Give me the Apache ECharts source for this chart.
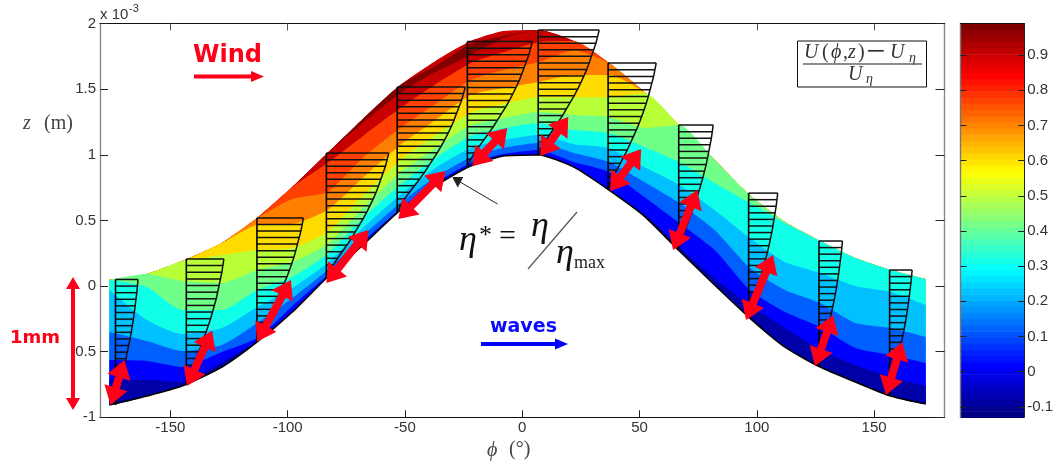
<!DOCTYPE html>
<html>
<head>
<meta charset="utf-8">
<style>html,body{margin:0;padding:0;background:#fff}#c{width:1056px;height:466px}</style>
<script src="https://cdn.jsdelivr.net/npm/echarts@6/dist/echarts.min.js"></script>
</head>
<body>
<div id="c"></div>
<script>
// phase angle (deg) of each column
const phi = [-176,-160,-145,-128,-113,-98,-83,-68,-52,-37,-22,-8,7,22,37,52,67,82,97,112,127,142,157,172];
// upper edge (mm-scale z, x10^-3 m) of each coloured band, top of domain first
const edgeTop = [.046,.091,.19,.328,.518,.754,1.013,1.272,1.531,1.714,1.866,1.942,1.95,1.866,1.699,1.478,1.226,.96,.693,.487,.343,.213,.122,.053];
const edgeMaroon = [.046,.091,.19,.328,.518,.754,1.013,1.272,1.531,1.676,1.843,1.904,1.95,1.866,1.699,1.478,1.226,.96,.693,.487,.343,.213,.122,.053];
const edgeDarkRed = [.046,.091,.19,.328,.518,.754,1.013,1.241,1.47,1.63,1.759,1.889,1.95,1.866,1.699,1.478,1.226,.96,.693,.487,.343,.213,.122,.053];
const edgeRed = [.046,.091,.19,.328,.518,.754,.937,1.142,1.356,1.538,1.698,1.782,1.858,1.866,1.699,1.478,1.226,.96,.693,.487,.343,.213,.122,.053];
const edgeOrange = [.046,.091,.19,.328,.518,.663,.716,.975,1.203,1.386,1.569,1.645,1.706,1.797,1.699,1.478,1.226,.96,.693,.487,.343,.213,.122,.053];
const edgeYellow = [.046,.091,.19,.328,.465,.472,.579,.823,1.074,1.264,1.455,1.508,1.554,1.607,1.607,1.478,1.226,.96,.693,.487,.343,.213,.122,.053];
const edgeLime = [.046,.091,.19,.236,.274,.289,.411,.685,.96,1.15,1.318,1.386,1.439,1.439,1.439,1.47,1.226,.96,.693,.487,.343,.213,.122,.053];
const edgeGreen = [.046,.091,.038,.023,.122,.183,.32,.594,.861,1.051,1.226,1.279,1.325,1.302,1.287,1.203,1.226,.96,.693,.487,.343,.213,.122,.053];
const edgeCyan = [.046,-.008,-.183,-.183,-.03,.069,.244,.518,.769,.975,1.142,1.203,1.241,1.188,1.165,1.059,.944,.784,.632,.48,.343,.213,.122,.053];
const edgeSky = [-.03,-.259,-.366,-.32,-.16,-.015,.175,.442,.693,.899,1.051,1.112,1.15,1.081,1.051,.906,.769,.579,.366,.183,.099,0,-.046,-.145];
const edgeAzure = [-.35,-.419,-.495,-.449,-.282,-.091,.122,.381,.632,.83,.982,1.051,1.089,1.013,.944,.792,.632,.426,.137,-.03,-.129,-.282,-.32,-.388];
const edgeBlue = [-.564,-.571,-.617,-.503,-.396,-.152,.084,.335,.586,.784,.937,1.005,1.036,.944,.868,.678,.48,.274,-.03,-.198,-.312,-.472,-.525,-.586];
const edgeNavy = [-.716,-.716,-.731,-.579,-.419,-.19,.069,.312,.579,.762,.914,.99,.998,.906,.731,.548,.297,.061,-.145,-.32,-.487,-.602,-.693,-.762];
const waveSurface = [-.906,-.838,-.762,-.617,-.426,-.198,.069,.312,.579,.762,.914,.99,.998,.906,.731,.533,.267,.008,-.244,-.465,-.617,-.731,-.838,-.899];
const bandColors = ['#c80000','#800000','#c80000','#ff4000','#ff8000','#ffdc00','#b8ff38','#70ff88','#10ffe8','#00c0ff','#0060ff','#0000ff','#0000a8'];

// velocity profiles: phi at base, z at base, z at top, width (deg) at top
const profilePhi = [-173.4,-143.2,-113.1,-83.5,-53.3,-23.4,6.8,36.6,66.7,96.5,126.5,156.6];
const profileBase = [-.906,-.754,-.426,.061,.564,.914,.998,.731,.274,-.244,-.609,-.83];
const profileTop = [.05,.206,.518,1.013,1.516,1.862,1.95,1.699,1.226,.708,.343,.122];
const profileWidth = [9.6,16,19.8,26.6,29,27.7,26,20.5,14.7,12.4,10,9.6];
const profileShape = [0,.1,.24,.38,.5,.62,.72,.81,.88,.95,1];
const profileRows = 19;

// red double arrows showing 1 mm: phi/z of lower and upper tips
const arrowPhiLow = [-175.5,-142.9,-113,-83.5,-52.8,-21.3,7.7,37.5,64.3,95.4,124.8,155.1];
const arrowZLow = [-.906,-.762,-.424,.023,.51,.914,.99,.724,.274,-.259,-.609,-.83];
const arrowPhiHigh = [-169.6,-132.2,-98.6,-65.6,-32.8,-6.4,19.6,50.7,74.6,106.9,132.5,161.9];
const arrowZHigh = [-.564,-.34,.046,.426,.876,1.203,1.287,1.043,.731,.236,-.221,-.426];

const xTicks = [-150,-100,-50,0,50,100,150];
const colorbarTicks = [-0.1,0,0.1,0.2,0.3,0.4,0.5,0.6,0.7,0.8,0.9];
const colorbarMin = -0.13, colorbarMax = 0.99, colorbarLevels = 64;

function jet(t){
  const c = v => Math.round(255*Math.max(0,Math.min(1,v)));
  const r = Math.min(4*t-1.5, -4*t+4.5), g = Math.min(4*t-0.5, -4*t+3.5), b = Math.min(4*t+0.5, -4*t+2.5);
  return 'rgb('+c(r)+','+c(g)+','+c(b)+')';
}
function arrowPts(a,b,shaft,headLen,headHalf,both){
  const dx=b[0]-a[0], dy=b[1]-a[1], L=Math.hypot(dx,dy), ux=dx/L, uy=dy/L, nx=-uy, ny=ux;
  const P=(d,n)=>[a[0]+ux*d+nx*n, a[1]+uy*d+ny*n];
  const pts=[];
  if(both){ pts.push(P(0,0),P(headLen,headHalf),P(headLen,shaft)); } else { pts.push(P(0,shaft)); }
  pts.push(P(L-headLen,shaft),P(L-headLen,headHalf),P(L,0),P(L-headLen,-headHalf),P(L-headLen,-shaft));
  if(both){ pts.push(P(headLen,-shaft),P(headLen,-headHalf)); } else { pts.push(P(0,-shaft)); }
  return pts;
}
const edges = [edgeTop,edgeMaroon,edgeDarkRed,edgeRed,edgeOrange,edgeYellow,edgeLime,edgeGreen,edgeCyan,edgeSky,edgeAzure,edgeBlue,edgeNavy];
const pair = arr => arr.map((z,i)=>[phi[i],z]);
const series = edges.map((e,i)=>({
  type:'line', xAxisIndex:0, yAxisIndex:0, data:pair(e), symbol:'none', silent:true, z:2,
  smooth:0.2,
  lineStyle:{width:0}, areaStyle:{color:bandColors[i],opacity:1,origin:'start'}
}));
// white mask below the surface, one degree wider so no coloured fringe shows at its ends
const maskData=[[phi[0]-1,waveSurface[0]],...pair(waveSurface),[phi[phi.length-1]+1,waveSurface[waveSurface.length-1]]];
series.push({type:'line',xAxisIndex:0,yAxisIndex:0,data:maskData,symbol:'none',silent:true,z:2,smooth:0.2,
  lineStyle:{width:0},areaStyle:{color:'#fff',opacity:1,origin:'start'}});
series.push({type:'line',xAxisIndex:0,yAxisIndex:0,data:pair(waveSurface),symbol:'none',silent:true,z:2,smooth:0.2,
  lineStyle:{width:1.6,color:'#000'}});

// velocity profiles
series.push({type:'custom',xAxisIndex:0,yAxisIndex:0,z:5,silent:true,encode:{x:0,y:1},
  data:profilePhi.map((p,i)=>[p,profileBase[i],profileTop[i],profileWidth[i]]),
  renderItem(params,api){
    const p=api.value(0), z0=api.value(1), z1=api.value(2), w=api.value(3);
    const f=t=>{const s=t*(profileShape.length-1),k=Math.min(Math.floor(s),profileShape.length-2);
      return profileShape[k]+(profileShape[k+1]-profileShape[k])*(s-k);};
    const children=[];
    const lineStyle={stroke:'#111',lineWidth:1.5,fill:null};
    const curve=[];
    for(let i=0;i<=profileRows;i++){
      const t=i/profileRows, z=z0+(z1-z0)*t;
      const a=api.coord([p,z]), b=api.coord([p+w*f(t),z]);
      curve.push(b);
      if(i>0) children.push({type:'line',shape:{x1:a[0],y1:a[1],x2:b[0],y2:b[1]},style:lineStyle});
    }
    children.push({type:'polyline',shape:{points:curve},style:lineStyle});
    const a=api.coord([p,z0]), b=api.coord([p,z1]);
    children.push({type:'line',shape:{x1:a[0],y1:a[1],x2:b[0],y2:b[1]},style:{stroke:'#000',lineWidth:1.6}});
    return {type:'group',children};
  }});
// red double arrows
series.push({type:'custom',xAxisIndex:0,yAxisIndex:0,z:8,silent:true,encode:{x:0,y:1},
  data:arrowPhiLow.map((p,i)=>[p,arrowZLow[i],arrowPhiHigh[i],arrowZHigh[i]]),
  renderItem(params,api){
    const a=api.coord([api.value(0),api.value(1)]), b=api.coord([api.value(2),api.value(3)]);
    return {type:'polygon',shape:{points:arrowPts(a,b,4,18,12,true)},style:{fill:'#ff0018'}};
  }});
// colour bar
const cbData=[];
const cbStep=(colorbarMax-colorbarMin)/colorbarLevels;
for(let k=0;k<colorbarLevels;k++) cbData.push([colorbarMin+k*cbStep,colorbarMin+(k+1)*cbStep,k]);
series.push({type:'custom',xAxisIndex:1,yAxisIndex:3,z:2,silent:true,encode:{y:[0,1]},data:cbData,
  renderItem(params,api){
    const a=api.coord([0,api.value(0)]), b=api.coord([1,api.value(1)]);
    return {type:'rect',shape:{x:a[0],y:b[1],width:b[0]-a[0],height:a[1]-b[1]+0.6},
      style:{fill:jet(api.value(2)/(colorbarLevels-1))}};
  }});

const tickStyle={lineStyle:{color:'#222',width:1}};
const lab='#333';
const sans='"Liberation Sans"';
const serif='"Liberation Serif"';
function T(text,x,y,font,fill,align){
  return {type:'text',z:20,x,y,silent:true,style:{text,font,fill:fill||'#333',textAlign:align||'left',textVerticalAlign:'middle'}};
}
const graphic=[
  T('Wind',193,56,'bold 24px "DejaVu Sans"','#ff0018'),
  {type:'polygon',z:20,shape:{points:arrowPts([194,76.5],[264,76.5],2,13,5.5,false)},style:{fill:'#ff0018'}},
  T('waves',490,327,'bold 19px "DejaVu Sans"','#0a0aff'),
  {type:'polygon',z:20,shape:{points:arrowPts([481,344],[568,344],2,13,5.5,false)},style:{fill:'#0000ff'}},
  T('1mm',10,338,'bold 18px "DejaVu Sans"','#ff0018'),
  {type:'polygon',z:20,shape:{points:arrowPts([73,410],[73,277],2,12,7,true)},style:{fill:'#ff0018'}},
  // pointer to the surface
  {type:'line',z:20,shape:{x1:497.5,y1:204,x2:455,y2:179},style:{stroke:'#222',lineWidth:1}},
  {type:'polyline',z:20,shape:{points:[[463,177.5],[453,177.5],[458,187]]},style:{stroke:'#222',lineWidth:1,fill:'#222'}},
  // eta* formula
  T('η',459,241,'italic 36px '+serif,'#111'),
  T('*',479,236,'26px '+serif,'#111'),
  T('=',499,237,'30px '+serif,'#111'),
  T('η',531,227,'italic 36px '+serif,'#111'),
  {type:'line',z:20,shape:{x1:577,y1:212,x2:528,y2:269},style:{stroke:'#555',lineWidth:1.2}},
  T('η',556,254,'italic 36px '+serif,'#111'),
  T('max',574,263,'18px '+serif,'#222'),
  // axis names
  T('z',23,124,'italic 20px '+serif,'#444'),
  T('(m)',44,124,'20px '+serif,'#444'),
  T('ϕ',487,451,'italic 20px '+serif,'#444'),
  T('(°)',509,450,'20px '+serif,'#444'),
  // exponent
  T('x 10',100,15,'15px '+sans,'#333'),
  T('-3',129,9,'11px '+sans,'#333'),
  // legend box
  {type:'rect',z:20,shape:{x:797.5,y:41,width:129,height:46},style:{fill:'#fff',stroke:'#111',lineWidth:1}},
  {type:'line',z:21,shape:{x1:803,y1:64,x2:922,y2:64},style:{stroke:'#666',lineWidth:1.4}},
  T('U',804,53,'italic 20px '+serif),T('(',822,53,'20px '+serif),T('ϕ',831,53,'italic 20px '+serif),
  T(',',843,53,'20px '+serif),T('z',848,53,'italic 20px '+serif),T(')',858,53,'20px '+serif),
  T('−',866,53,'34px '+serif),T('U',890,53,'italic 20px '+serif),T('η',909,58,'italic 14px '+serif),
  T('U',848,75,'italic 20px '+serif),T('η',866,79,'italic 14px '+serif)
].map(g=>{g.z=g.z||20;return g;});

const onZero={onZero:false};
const option={
  animation:false,
  backgroundColor:'#fff',
  graphic,
  grid:[
    {left:100,top:23.5,width:844.5,height:393.8},
    {left:960.5,top:23.5,width:66,height:393.8}
  ],
  xAxis:[
    {gridIndex:0,type:'value',min:-180,max:180,position:'bottom',z:4,
     axisLine:{...onZero,lineStyle:{color:'#111',width:1.2}},
     axisTick:{inside:true,length:7,customValues:xTicks,...tickStyle},
     axisLabel:{customValues:xTicks,color:lab,fontSize:15,fontFamily:sans,margin:3},splitLine:{show:false}},
    {gridIndex:1,type:'value',min:0,max:1,z:4,axisLine:{show:true,...onZero,lineStyle:{color:'#111',width:1.2}},axisTick:{show:false},axisLabel:{show:false},splitLine:{show:false},position:'top'},
    {gridIndex:0,type:'value',min:-180,max:180,position:'top',z:4,
     axisLine:{...onZero,lineStyle:{color:'#111',width:1.2}},
     axisTick:{inside:true,length:7,customValues:xTicks,lineStyle:{color:'#555',width:1}},
     axisLabel:{show:false},splitLine:{show:false}}
  ],
  yAxis:[
    {gridIndex:0,type:'value',min:-1,max:2,interval:0.5,position:'left',z:4,
     axisLine:{show:true,...onZero,lineStyle:{color:'#888',width:1.4}},
     axisTick:{show:true,inside:true,length:8,...tickStyle},
     axisLabel:{color:lab,fontSize:15,fontFamily:sans,margin:4},splitLine:{show:false}},
    {gridIndex:0,type:'value',min:-1,max:2,interval:0.5,position:'right',z:4,
     axisLine:{show:true,...onZero,lineStyle:{color:'#888',width:1.4}},
     axisTick:{show:true,inside:true,length:9,...tickStyle},
     axisLabel:{show:false},splitLine:{show:false}},
    {gridIndex:1,type:'value',min:colorbarMin,max:colorbarMax,position:'left',z:4,
     axisLine:{show:true,...onZero,lineStyle:{color:'#777',width:1.4}},
     axisTick:{show:true,inside:true,length:6,customValues:colorbarTicks,lineStyle:{color:'#222',width:1}},
     axisLabel:{show:false},splitLine:{show:false}},
    {gridIndex:1,type:'value',min:colorbarMin,max:colorbarMax,position:'right',z:4,
     axisLine:{show:true,...onZero,lineStyle:{color:'#222',width:1}},
     axisTick:{show:true,inside:true,length:6,customValues:colorbarTicks,lineStyle:{color:'#222',width:1}},
     axisLabel:{customValues:colorbarTicks,color:lab,fontSize:15,fontFamily:sans,margin:3,formatter:v=>String(+v.toFixed(1))},
     splitLine:{show:false}}
  ],
  series
};
echarts.init(document.getElementById('c'),null,{renderer:'canvas'}).setOption(option);
</script>
</body>
</html>
